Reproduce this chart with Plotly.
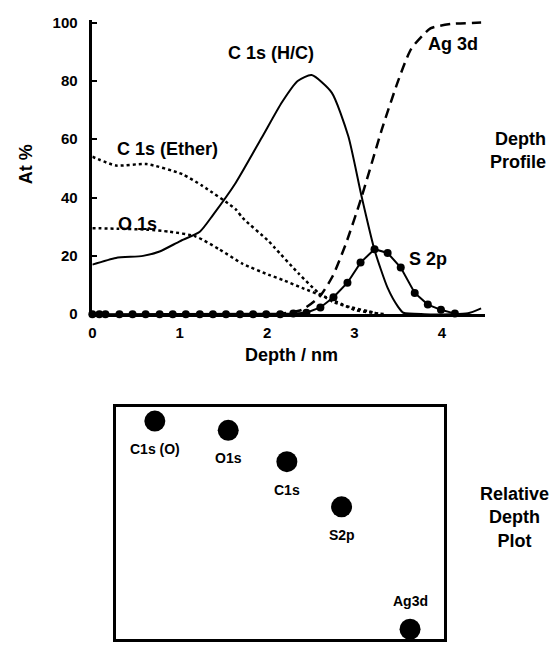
import plotly.graph_objects as go

# ---------------- data: depth profile ----------------
hc_x = [0, 0.27, 0.58, 0.77, 1.0, 1.23, 1.38, 1.64, 1.94, 2.17, 2.35, 2.51, 2.74, 2.93, 3.08, 3.23, 3.38, 3.5, 3.56, 3.8, 4.1, 4.3, 4.45]
hc_y = [17, 19.3, 20, 21.5, 25, 28.3, 34, 45, 60.6, 72.7, 80, 82, 76, 61, 40.6, 22, 9, 2.5, 0.5, 0, 0, 0.3, 2]

ether_x = [0, 0.27, 0.62, 1.03, 1.26, 1.64, 1.72, 2.02, 2.09, 2.36, 2.59, 2.77, 2.97, 3.16, 3.3]
ether_y = [54, 51, 51.5, 48, 44, 36, 33, 25, 22.7, 14, 7.3, 4, 2.3, 1, 0]

o1s_x = [0, 0.3, 0.62, 0.88, 1.18, 1.45, 1.72, 2.02, 2.2, 2.4, 2.66, 2.85, 3.0, 3.2, 3.35]
o1s_y = [29.5, 29.3, 29, 28.3, 26.7, 22.3, 17.3, 13.5, 11.5, 9, 6, 3.5, 1.5, 0.5, 0]

ag_x = [2.1, 2.25, 2.4, 2.6, 2.75, 2.9, 3.08, 3.31, 3.5, 3.65, 3.87, 4.1, 4.45]
ag_y = [0, 0.5, 1.5, 6, 13, 24, 40, 63, 80, 91, 98, 99.5, 100]

s2p_x = [0, 0.08, 0.15, 0.31, 0.46, 0.61, 0.77, 0.92, 1.07, 1.23, 1.38, 1.53, 1.69, 1.84, 1.99,
         2.15, 2.30, 2.45, 2.61, 2.76, 2.92, 3.07, 3.23, 3.38, 3.53, 3.69, 3.84, 3.99, 4.15]
s2p_y = [0, 0, 0, 0, 0, 0, 0, 0, 0, 0, 0, 0, 0, 0, 0,
         0, 0.2, 0.5, 2.3, 5.8, 10.8, 17.7, 22.3, 21, 16, 7.3, 3.3, 1.5, 0.2]

y_ticks = [0, 20, 40, 60, 80, 100]
x_ticks = [0, 1, 2, 3, 4]

# ---------------- data: relative depth plot ----------------
rel_labels = ["C1s (O)", "O1s", "C1s", "S2p", "Ag3d"]
rel_x = [11.8, 34.2, 52.1, 68.8, 89.7]
rel_y = [94.0, 90.0, 76.5, 57.0, 4.2]

FONT = "Liberation Sans, Arial, sans-serif"
W, H = 552, 648

def px(x):
    return x / W

def py(y):
    return 1 - y / H

fig = go.Figure()

fig.add_trace(go.Scatter(x=hc_x, y=hc_y, mode="lines", line=dict(color="black", width=2, shape="spline", smoothing=0.6),
                         cliponaxis=False, xaxis="x", yaxis="y"))
fig.add_trace(go.Scatter(x=ether_x, y=ether_y, mode="lines", line=dict(color="black", width=2.5, dash="dot", shape="spline", smoothing=0.6),
                         cliponaxis=False, xaxis="x", yaxis="y"))
fig.add_trace(go.Scatter(x=o1s_x, y=o1s_y, mode="lines", line=dict(color="black", width=2.5, dash="dot", shape="spline", smoothing=0.6),
                         cliponaxis=False, xaxis="x", yaxis="y"))
fig.add_trace(go.Scatter(x=ag_x, y=ag_y, mode="lines", line=dict(color="black", width=2.5, dash="10px,6px", shape="spline", smoothing=0.6),
                         cliponaxis=False, xaxis="x", yaxis="y"))
fig.add_trace(go.Scatter(x=s2p_x, y=s2p_y, mode="lines+markers", line=dict(color="black", width=2),
                         marker=dict(color="black", size=8), cliponaxis=False, xaxis="x", yaxis="y"))

fig.add_trace(go.Scatter(x=rel_x, y=rel_y, mode="markers", marker=dict(color="black", size=21),
                         cliponaxis=False, xaxis="x2", yaxis="y2"))

bold = dict(family=FONT, color="black", weight="bold")

annotations = []
# curve labels (data coordinates of top plot)
curve_labels = [
    ("C 1s (H/C)", 2.05, 89.5),
    ("C 1s (Ether)", 0.86, 56.5),
    ("O 1s", 0.52, 31.0),
    ("Ag 3d", 4.13, 92.5),
    ("S 2p", 3.84, 19.0),
]
for t, x, y in curve_labels:
    annotations.append(dict(text=t, x=x, y=y, xref="x", yref="y", showarrow=False,
                            font=dict(size=18, **bold), xanchor="center", yanchor="middle"))

# relative depth labels
for i, t in enumerate(rel_labels):
    shift = 28 if t == "Ag3d" else -28
    annotations.append(dict(text=t, x=rel_x[i], y=rel_y[i], xref="x2", yref="y2", showarrow=False,
                            yshift=shift, font=dict(size=14, **bold), xanchor="center", yanchor="middle"))

annotations += [
    dict(text="Depth<br>Profile", x=px(518), y=py(148), xref="paper", yref="paper", showarrow=False,
         font=dict(size=18, **bold), align="right", xanchor="center", yanchor="middle"),
    dict(text="Relative<br>Depth<br>Plot", x=px(514), y=py(523), xref="paper", yref="paper", showarrow=False,
         font=dict(size=18, **bold), align="center", xanchor="center", yanchor="middle"),
    dict(text="At %", x=px(22), y=py(162), xref="paper", yref="paper", showarrow=False, textangle=-90,
         font=dict(size=18, **bold), xanchor="center", yanchor="middle"),
    dict(text="Depth / nm", x=px(290), y=py(357), xref="paper", yref="paper", showarrow=False,
         font=dict(size=18, **bold), xanchor="center", yanchor="middle"),
]

fig.update_layout(
    width=W, height=H,
    margin=dict(l=0, r=0, t=0, b=0),
    paper_bgcolor="white", plot_bgcolor="white",
    showlegend=False,
    annotations=annotations,
    xaxis=dict(domain=[px(89), px(485)], range=[0, 4.5], showline=True, linewidth=2.5, linecolor="black",
               showgrid=False, zeroline=False, tickvals=x_ticks, ticks="", ticklabelstandoff=3,
               tickfont=dict(size=15, **bold), anchor="y"),
    yaxis=dict(domain=[py(315), py(14)], range=[0, 101], showline=True, linewidth=2.5, linecolor="black",
               showgrid=False, zeroline=False, tickvals=y_ticks, ticks="inside", ticklen=5, tickwidth=2,
               tickcolor="black", ticklabelstandoff=9, tickfont=dict(size=15, **bold), anchor="x"),
    xaxis2=dict(domain=[px(113), px(443)], range=[0, 100], showline=True, mirror=True, linewidth=2.5,
                linecolor="black", showgrid=False, zeroline=False, showticklabels=False, ticks="", anchor="y2"),
    yaxis2=dict(domain=[py(647), py(410)], range=[0, 100], showline=True, mirror=True, linewidth=2.5,
                linecolor="black", showgrid=False, zeroline=False, showticklabels=False, ticks="", anchor="x2"),
)

fig.write_html("out.html")
